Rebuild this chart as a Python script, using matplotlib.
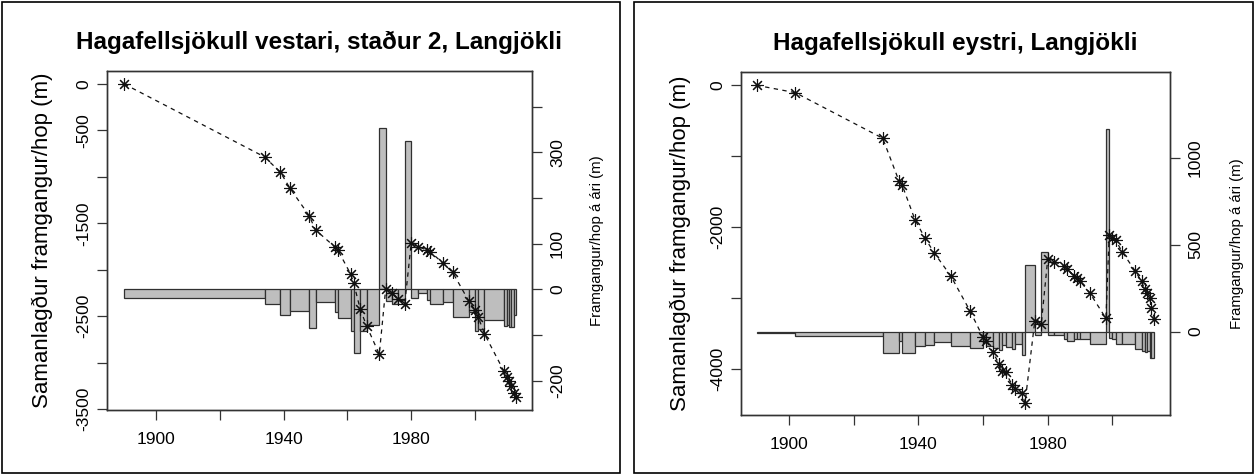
import matplotlib
matplotlib.use("Agg")
import matplotlib.pyplot as plt
import numpy as np
from matplotlib.patches import Rectangle

plt.rcParams['font.family'] = ['Liberation Sans', 'DejaVu Sans']

# ---------------- Data: Hagafellsjökull vestari, staður 2 ----------------
west_title = "Hagafellsjökull vestari, staður 2, Langjökli"
west_years = [1890, 1934, 1939, 1942, 1948, 1950, 1956, 1957, 1961, 1962, 1964, 1966,
              1970, 1972, 1974, 1976, 1978, 1980, 1982, 1985, 1986, 1990, 1993, 1998,
              2000, 2001, 2003, 2009, 2010, 2010.7, 2011.4, 2012.2, 2013]
west_cum = [0, -785, -951, -1123, -1418, -1572, -1752, -1788, -2046, -2146, -2423, -2603,
            -2911, -2208, -2254, -2319, -2366, -1716, -1752, -1788, -1806, -1931, -2028, -2333,
            -2434, -2506, -2692, -3087, -3152, -3195, -3249, -3324, -3374]
west_rate = [-18, -32, -57, -48, -85, -27, -50, -62, -90, -140, -90, -78,
             354, -25, -32, -24, 325, -18, -9, -23, -33, -28, -61, -50,
             -90, -87, -67, -80, -78, -83, -83, -55]

# ---------------- Data: Hagafellsjökull eystri ----------------
east_title = "Hagafellsjökull eystri, Langjökli"
east_years = [1890, 1902, 1929, 1934, 1935, 1939, 1942, 1945, 1950, 1956,
              1960, 1961, 1963, 1965, 1966, 1967, 1969, 1970, 1972, 1973,
              1976, 1978, 1980, 1982, 1985, 1986, 1988, 1989, 1990, 1993,
              1998, 1999, 2000, 2001, 2003, 2007, 2009, 2010, 2010.6, 2011.5,
              2012, 2013]
east_cum = [0, -104, -746, -1344, -1404, -1897, -2146, -2366, -2682, -3179,
            -3549, -3597, -3752, -3930, -4020, -4042, -4221, -4282, -4338, -4470,
            -3320, -3366, -2451, -2484, -2545, -2585, -2680, -2720, -2760, -2925,
            -3282, -2108, -2145, -2179, -2345, -2613, -2763, -2875, -2925, -2992,
            -3130, -3287]
east_rate = [-9, -24, -120, -55, -125, -82, -75, -60, -83, -95,
             -60, -80, -92, -105, -75, -90, -100, -70, -134, 383,
             -20, 455, -18, -22, -44, -55, -44, -42, -45, -72,
             1163, -38, -40, -72, -70, -100, -110, -115, -110, -153,
             -153]

xticks = [1900, 1920, 1940, 1960, 1980, 2000]
xticklabels = ["1900", "", "1940", "", "1980", ""]

west_yticks = [0, -500, -1000, -1500, -2000, -2500, -3000, -3500]
west_yticklabels = ["0", "-500", "", "-1500", "", "-2500", "", "-3500"]
west_rticks = [400, 300, 200, 100, 0, -100, -200]
west_rticklabels = ["", "300", "", "100", "0", "", "-200"]

east_yticks = [0, -1000, -2000, -3000, -4000]
east_yticklabels = ["0", "", "-2000", "", "-4000"]
east_rticks = [0, 500, 1000]
east_rticklabels = ["0", "500", "1000"]

ylabel_left = "Samanlagður framgangur/hop (m)"
ylabel_right = "Framgangur/hop á ári (m)"

W, H = 1254, 474
fig = plt.figure(figsize=(W / 100, H / 100), dpi=100)

SPINE = "#333333"
TICK_FS = 12.5
LAB_FS = 16
TITLE_FS = 17.5


def ax_rect(x0, y0, x1, y1):
    return [x0 / W, 1 - y1 / H, (x1 - x0) / W, (y1 - y0) / H]


def panel(rect, years, cum, rate, title, xlim, ylim, rylim,
          yt, ytl, rt, rtl, lab_x, rlab_x):
    ax = fig.add_axes(ax_rect(*rect))
    ax2 = ax.twinx()
    yrs = np.array(years, dtype=float)
    ax2.bar(yrs[:-1], rate, width=np.diff(yrs), align='edge',
            color='#bebebe', edgecolor='#303030', linewidth=0.9, zorder=2)
    ax.plot(years, cum, linestyle=(0, (3.5, 3.5)), color='#111111', linewidth=0.9,
            marker=(8, 2, 0), markersize=9, markeredgewidth=0.8, zorder=3)
    ax.set_zorder(ax2.get_zorder() + 1)
    ax.patch.set_visible(False)

    ax.set_xlim(*xlim)
    ax.set_ylim(*ylim)
    ax2.set_ylim(*rylim)

    for a in (ax, ax2):
        for s in a.spines.values():
            s.set_color(SPINE)
            s.set_linewidth(1.0)
    ax.set_xticks(xticks)
    ax.set_xticklabels(xticklabels, fontsize=TICK_FS)
    ax.set_yticks(yt)
    ax.set_yticklabels(ytl, fontsize=TICK_FS, rotation=90, va='center')
    ax2.set_yticks(rt)
    ax2.set_yticklabels(rtl, fontsize=TICK_FS, rotation=90, va='center')
    ax.tick_params(axis='both', direction='out', length=7, width=0.9, color=SPINE, pad=4)
    ax.tick_params(axis='x', pad=9)
    ax2.tick_params(axis='y', direction='out', length=7, width=0.9, color=SPINE, pad=6)

    ax.set_ylabel(ylabel_left, fontsize=LAB_FS)
    ax.yaxis.set_label_coords(lab_x, 0.5)
    ax2.set_ylabel(ylabel_right, fontsize=10.8)
    ax2.yaxis.set_label_coords(rlab_x, 0.5)
    ax.set_title(title, fontsize=TITLE_FS, fontweight='bold', pad=16)
    return ax, ax2


panel((107, 71, 532, 410), west_years, west_cum, west_rate, west_title,
      (1884.6, 2017.9), (-3511, 140), (-264, 478),
      west_yticks, west_yticklabels, west_rticks, west_rticklabels,
      -0.127, 1.137)

panel((741, 72, 1170, 415), east_years, east_cum, east_rate, east_title,
      (1885.2, 2017.8), (-4644, 187), (-479, 1492),
      east_yticks, east_yticklabels, east_rticks, east_rticklabels,
      -0.117, 1.141)

# outer frames around each panel
for (x0, x1) in [(1.5, 620), (634, 1252.5)]:
    fig.add_artist(Rectangle((x0 / W, 1.5 / H), (x1 - x0) / W, (H - 3) / H,
                             transform=fig.transFigure, fill=False,
                             edgecolor='black', linewidth=1.2))

fig.savefig("out.png", dpi=100)
